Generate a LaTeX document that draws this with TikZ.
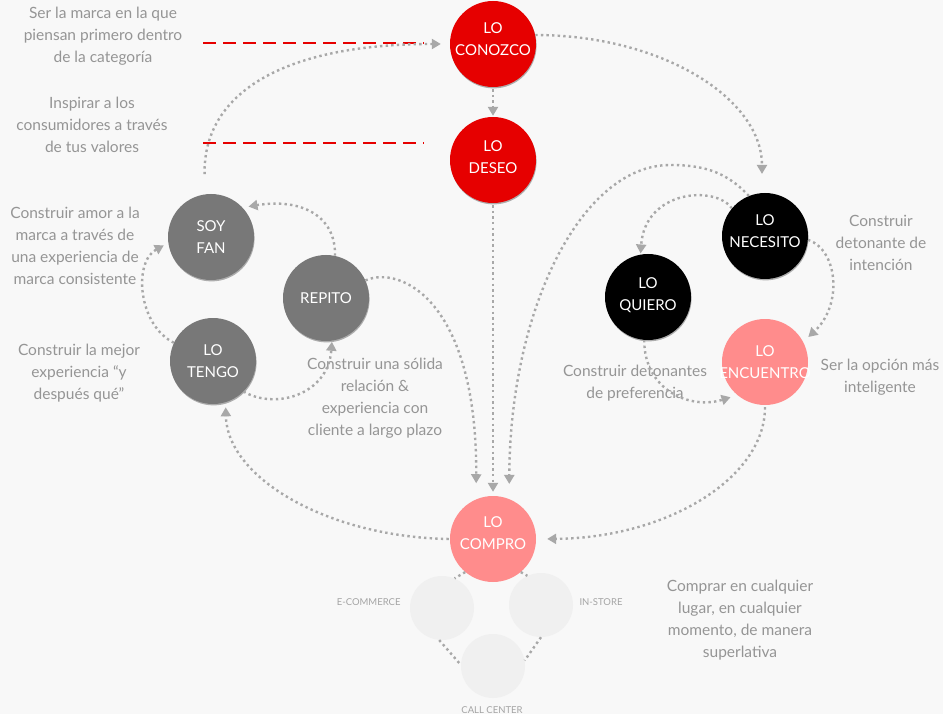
\documentclass[tikz,border=0pt]{standalone}
\usepackage{fontspec}
\setmainfont{Lato}
\usetikzlibrary{arrows.meta,shadows}
\definecolor{bg}{HTML}{F8F8F8}
\definecolor{vred}{HTML}{E60000}
\definecolor{vgray}{HTML}{787878}
\definecolor{vpink}{HTML}{FF8C8C}
\definecolor{vlight}{HTML}{F0F0F0}
\definecolor{txtgray}{HTML}{959595}
\definecolor{lblgray}{HTML}{A4A4A4}
\definecolor{lngray}{HTML}{A8A8A8}
\newcommand\clab[1]{\makebox[0pt]{#1}}
\begin{document}
\begin{tikzpicture}[x=1pt,y=1pt,
  circ/.style={circle,minimum size=86pt,inner sep=0pt,text=white,align=center,font=\fontsize{15}{22.5}\selectfont},
  shad/.style={drop shadow={shadow xshift=0.6pt,shadow yshift=-1.4pt,opacity=0.3,fill=black}},
  redc/.style={circ,fill=vred,shad},
  grayc/.style={circ,fill=vgray,shad},
  blackc/.style={circ,fill=black,shad},
  pinkc/.style={circ,fill=vpink},
  lightc/.style={circle,minimum size=64pt,inner sep=0pt,fill=vlight},
  note/.style={text=txtgray,align=center,font=\fontsize{15.5}{22}\selectfont},
  small/.style={text=lblgray,font=\fontsize{9.5}{11}\selectfont},
  link/.style={draw=lngray,line width=2.4pt,dash pattern=on 2.4pt off 3.2pt},
  flow/.style={link,-{Triangle[length=9pt,width=10pt,fill=lngray]}},
  reddash/.style={draw=vred,line width=2pt,dash pattern=on 13pt off 7pt}
]
\fill[bg] (0,0) rectangle (943,-714);
\useasboundingbox (0,0) rectangle (943,-714);

% main circles
\node[redc,text depth=10pt] (conozco) at (493,-44) {\clab{LO}\\\clab{CONOZCO}};
\node[redc,text depth=6pt] (deseo) at (493,-160) {\clab{LO}\\\clab{DESEO}};
\node[grayc] (soy) at (211,-237) {\clab{SOY}\\\clab{FAN}};
\node[grayc] (repito) at (326,-298) {\clab{REPITO}};
\node[grayc] (tengo) at (213,-361) {\clab{LO}\\\clab{TENGO}};
\node[blackc,text depth=10pt] (necesito) at (765,-236) {\clab{LO}\\\clab{NECESITO}};
\node[blackc,text depth=6pt] (quiero) at (648,-297) {\clab{LO}\\\clab{QUIERO}};
\node[pinkc] (encuentro) at (765,-362) {\clab{LO}\\\clab{ENCUENTRO}};
\node[pinkc,text depth=12pt] (compro) at (493,-539) {\clab{LO}\\\clab{COMPRO}};

% channel circles
\node[lightc] (ecom) at (442,-608) {};
\node[lightc] (instore) at (541,-605) {};
\node[lightc] (call) at (493,-666) {};
\node[small,anchor=east] (lecom) at (404,-602) {E-COMMERCE};
\node[small,anchor=west] (linstore) at (576,-602) {IN-STORE};
\node[small] (lcall) at (492,-710) {CALL CENTER};

% notes
\node[note] (t1) at (103,-36) {Ser la marca en la que\\piensan primero dentro\\de la categoría};
\node[note] (t2) at (92,-125) {Inspirar a los\\consumidores a través\\de tus valores};
\node[note] (t3) at (75,-246) {Construir amor a la\\marca a través de\\una experiencia de\\marca consistente};
\node[note] (t4) at (79,-373) {Construir la mejor\\experiencia “y\\después qué”};
\node[note] (t5) at (375,-398) {Construir una sólida\\relación \&\\experiencia con\\cliente a largo plazo};
\node[note] (t6) at (881,-243) {Construir\\detonante de\\intención};
\node[note] (t7) at (880,-377) {Ser la opción más\\inteligente};
\node[note] (t8) at (635,-383) {Construir detonantes\\de preferencia};
\node[note] (t9) at (740,-620) {Comprar en cualquier\\lugar, en cualquier\\momento, de manera\\superlativa};

% red dashed guides
\coordinate (d1) at (203,-43);
\coordinate (d2) at (203,-143);
\draw[reddash,shorten >=26pt] (d1) -- (d1 -| conozco.west);
\draw[reddash,shorten >=26pt] (d2) -- (d2 -| deseo.west);

% flows
\draw[flow,shorten <=20pt,shorten >=9pt] (soy.98) .. controls (203,-95) and (280,-44) .. (conozco.west);
\draw[flow,shorten <=2pt,shorten >=1pt] (conozco.south) -- (deseo.north);
\draw[flow,shorten >=19pt] (conozco.12) .. controls (661,-35) and (762,-98) .. (necesito.94);
\draw[flow,shorten <=2pt,shorten >=4pt] (deseo.south) -- (compro.north);
\draw[flow,shorten >=16pt] (repito.24) .. controls (400,-265) and (477,-300) .. (compro.113);
\draw[flow,shorten >=15pt] (necesito.112) .. controls (725,-170) and (700,-165) .. (670,-165)
   .. controls (582,-165) and (510,-308) .. (compro.68);
\draw[flow,shorten >=1pt] (necesito.140) .. controls (715,-185) and (645,-190) .. (quiero.100);
\draw[flow,shorten >=7pt] (necesito.-5) .. controls (838,-250) and (843,-305) .. (encuentro.28);
\draw[flow,shorten >=7pt] (quiero.265) .. controls (644,-390) and (690,-410) .. (encuentro.230);
\draw[flow,shorten <=2pt,shorten >=11pt] (encuentro.south) .. controls (765,-478) and (667,-538) .. (compro.east);
\draw[flow,shorten <=1pt,shorten >=5pt] (compro.west) .. controls (328,-537) and (227,-478) .. (tengo.-73);
\draw[flow,shorten >=1pt] (tengo.-45) .. controls (275,-410) and (328,-395) .. (repito.-82);
\draw[flow,shorten >=6pt] (repito.78) .. controls (336,-215) and (300,-198) .. (soy.43);
\draw[flow,shorten >=5pt] (tengo.155) .. controls (138,-325) and (133,-262) .. (soy.188);

% channel links
\draw[link] (compro.230) -- (ecom.67);
\draw[link] (compro.310) -- (instore.115);
\draw[link] (ecom.265) -- (call.178);
\draw[link] (instore.270) -- (call.10);
\end{tikzpicture}
\end{document}
